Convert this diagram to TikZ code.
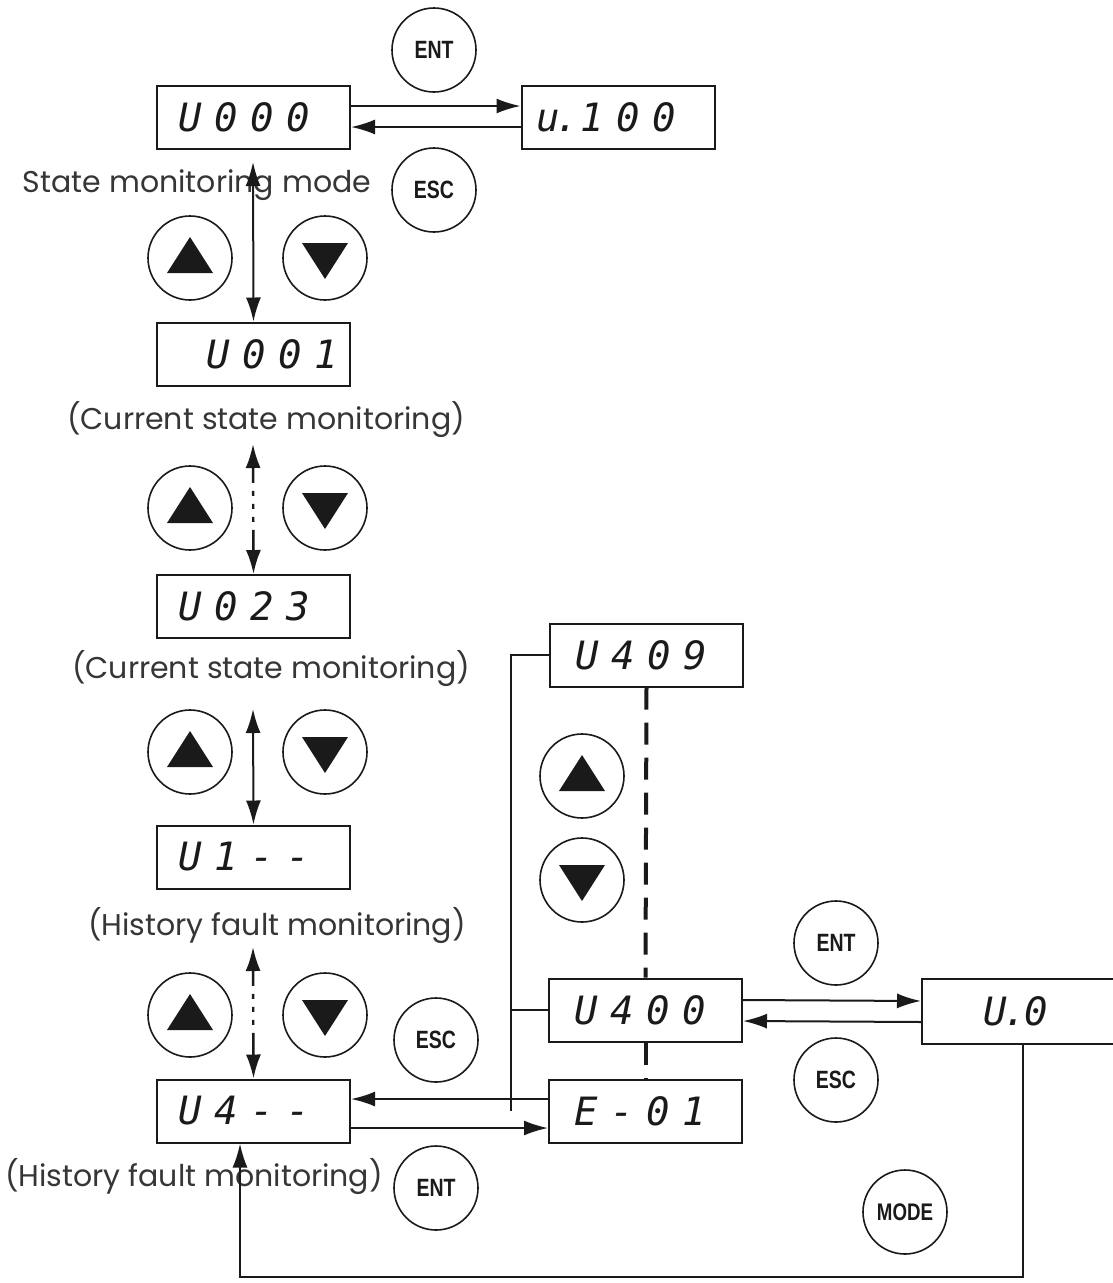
\documentclass[tikz,border=0pt]{standalone}
\usepackage{fontspec}
\setmainfont{Poppins}
\newfontfamily\segfont{DejaVu Sans Mono}
\newfontfamily\keyfont[FakeStretch=0.78]{Liberation Sans}
\usetikzlibrary{arrows.meta}
\definecolor{ink}{HTML}{1A1A1A}
\definecolor{txt}{HTML}{363636}
\newcommand\dg[2][36pt]{\makebox[#1][c]{#2}}
\newcommand\uptri[1]{\fill[ink,shift={(#1)}] (-23,15) -- (23,15) -- (0,-21) -- cycle;}
\newcommand\dntri[1]{\fill[ink,shift={(#1)}] (-23,-15) -- (23,-15) -- (0,21) -- cycle;}
\begin{document}
\begin{tikzpicture}[x=1pt,y=-1pt,
 disp/.style={draw=ink,line width=2pt,minimum width=193pt,minimum height=63pt,inner sep=0pt},
 seg/.style={font=\segfont\itshape\fontsize{39}{39}\selectfont,text=ink,anchor=west,inner sep=0pt},
 btn/.style={circle,draw=ink,line width=1.6pt,minimum size=84pt,inner sep=0pt,font=\keyfont\bfseries\fontsize{25}{25}\selectfont,text=ink},
 lbl/.style={font=\fontsize{30}{34}\selectfont,text=txt,inner sep=0pt},
 conn/.style={draw=ink,line width=2pt},
 tip/.tip={Latex[length=24pt,width=15pt]},
 arr/.style={conn,-tip},
 darr/.style={conn,tip-tip},
 dotarr/.style={darr,line width=2.4pt,dash pattern=on 16pt off 8pt on 5pt off 8pt on 5pt off 8pt on 5pt off 8pt on 80pt},
 fdash/.style={draw=ink,line width=4pt,dash pattern=on 22pt off 13pt}
]
\clip (0,0) rectangle (1113,1283);
\fill[white] (0,0) rectangle (1113,1283);

% ---------- left column ----------
\node[disp] (u000) at (253.5,117) {};
\node[seg] (t000) at ([xshift=16pt]u000.west) {\dg{U}\dg{0}\dg{0}\dg{0}};
\node[disp] (u100) at (618,117) {};
\node[seg] (t100) at ([xshift=16pt]u100.west) {\dg[24pt]{u}\dg[14pt]{.}\dg{1}\dg{0}\dg{0}};
\node[btn] (ent0) at (434,50) {ENT};
\node[btn] (esc0) at (434,190) {ESC};
\node[lbl] (lab0) at (197,185) {State monitoring mode};

\node[btn] (up1) at (190,258) {};
\node[btn] (dn1) at (325,258) {};
\uptri{up1}\dntri{dn1}
\node[disp] (u001) at (253.5,354) {};
\node[seg] (t001) at ([xshift=44pt]u001.west) {\dg{U}\dg{0}\dg{0}\dg{1}};
\node[lbl] (lab1) at (266,420) {(Current state monitoring)};

\node[btn] (up2) at (190,508) {};
\node[btn] (dn2) at (325,508) {};
\uptri{up2}\dntri{dn2}
\node[disp] (u023) at (253.5,606.5) {};
\node[seg] (t023) at ([xshift=16pt]u023.west) {\dg{U}\dg{0}\dg{2}\dg{3}};
\node[lbl] (lab2) at (271,669) {(Current state monitoring)};

\node[btn] (up3) at (190,752) {};
\node[btn] (dn3) at (325,752) {};
\uptri{up3}\dntri{dn3}
\node[disp] (u1) at (253.5,857) {};
\node[seg] (t1) at ([xshift=16pt]u1.west) {\dg{U}\dg{1}\dg{-}\dg{-}};
\node[lbl] (lab3) at (277,926) {(History fault monitoring)};

\node[btn] (up4) at (190,1015) {};
\node[btn] (dn4) at (325,1015) {};
\uptri{up4}\dntri{dn4}
\node[btn] (esc2) at (436,1040) {ESC};
\node[disp] (u4) at (253.5,1111) {};
\node[seg] (t4) at ([xshift=16pt]u4.west) {\dg{U}\dg{4}\dg{-}\dg{-}};
\node[lbl] (lab4) at (194,1177) {(History fault monitoring)};
\node[btn] (ent2) at (436,1188) {ENT};

% ---------- right column ----------
\node[disp] (u409) at (646.5,655) {};
\node[seg] (t409) at ([xshift=20pt]u409.west) {\dg{U}\dg{4}\dg{0}\dg{9}};
\node[btn] (up5) at (582,776) {};
\node[btn] (dn5) at (582,880) {};
\uptri{up5}\dntri{dn5}
\node[disp] (u400) at (645.5,1010) {};
\node[seg] (t400) at ([xshift=20pt]u400.west) {\dg{U}\dg{4}\dg{0}\dg{0}};
\node[disp] (e01) at (645.5,1111) {};
\node[seg] (te01) at ([xshift=20pt]e01.west) {\dg{E}\dg{-}\dg{0}\dg{1}};
\node[btn] (ent1) at (836,943) {ENT};
\node[btn] (esc1) at (836,1080) {ESC};
\node[disp,minimum width=200pt,minimum height=65pt] (uz) at (1022,1011) {};
\node[seg] (tuz) at ([xshift=60pt]uz.west) {\dg[28pt]{U}\dg[12pt]{.}\dg[30pt]{0}};
\node[btn,font=\keyfont\bfseries\fontsize{24}{24}\selectfont] (mode) at (905,1212) {MODE};

% ---------- connectors ----------
\draw[arr] ([yshift=11pt]u000.east) -- ([yshift=11pt]u100.west);
\draw[arr] ([yshift=-10pt]u100.west) -- ([yshift=-10pt]u000.east);
\coordinate (a0) at (253,162);
\draw[darr] (a0) -- (u001.north);
\coordinate (a1) at (253,444);
\draw[dotarr] (a1) -- (u023.north);
\coordinate (a2) at (253,709);
\draw[darr] (a2) -- (u1.north);
\coordinate (a3) at (253,947);
\draw[dotarr] (a3) -- (u4.north);

\coordinate (bus) at (511,655);
\draw[conn] (u409.west) -- (bus) -- (bus |- e01.west);
\draw[conn] (u400.west) -- (u400.west -| bus);
\draw[arr] ([yshift=12pt]e01.west) -- ([yshift=12pt]u4.east);
\draw[arr] ([yshift=-17pt]u4.east) -- ([yshift=-17pt]e01.west);
\draw[fdash] (u409.south) -- (u400.north);
\draw[fdash] (u400.south) -- (e01.north);

\draw[arr] ([yshift=10pt]u400.east) -- ([yshift=10pt]uz.west);
\draw[arr] ([yshift=-11pt]uz.west) -- ([yshift=-11pt]u400.east);

\coordinate (b1) at (1023,1277);
\coordinate (b2) at (240,1277);
\draw[arr] (uz.south -| b1) -- (b1) -- (b2) -- (b2 |- u4.south);
\end{tikzpicture}
\end{document}
